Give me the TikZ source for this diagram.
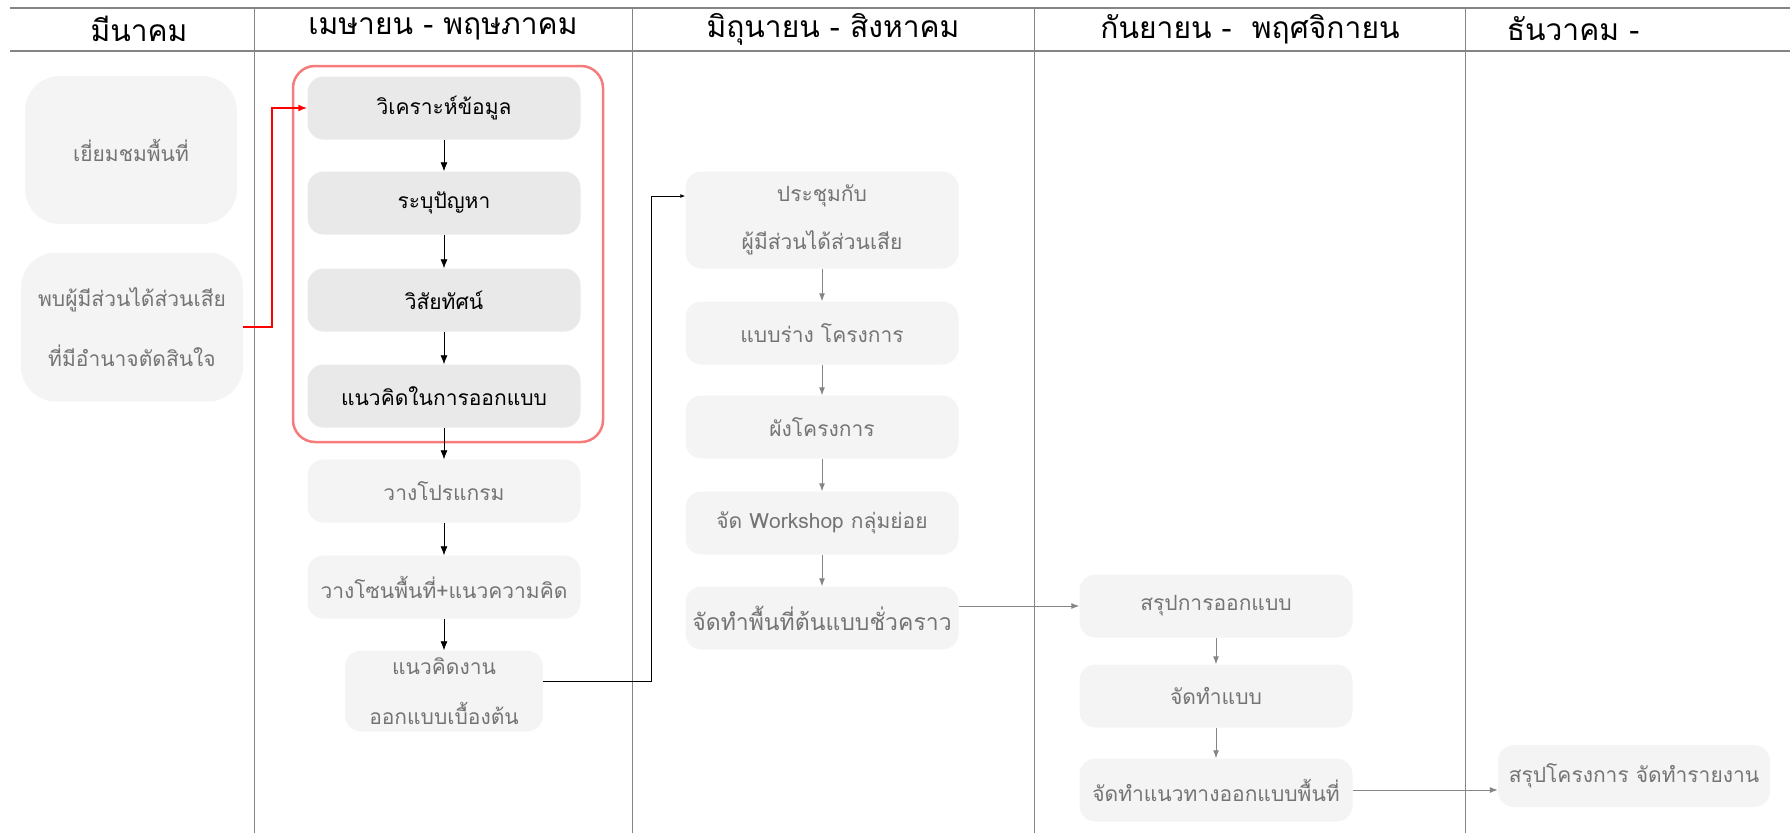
\documentclass[tikz,border=0pt]{standalone}
\usepackage{fontspec}
\newfontfamily\thaifont[Script=Thai]{Loma}
\usetikzlibrary{arrows.meta}

\definecolor{boxgray}{HTML}{F4F4F4}
\definecolor{boxdark}{HTML}{E9E9E9}
\definecolor{txtgray}{HTML}{747474}
\definecolor{linegray}{HTML}{858585}
\definecolor{framered}{HTML}{F47C7C}

\begin{document}
\begin{tikzpicture}[x=1pt,y=-1pt,
    month/.style={font=\thaifont\fontsize{30}{32}\selectfont},
    task/.style={rounded corners=16pt,fill=boxgray,text=txtgray,
        minimum width=273pt,minimum height=63pt,inner sep=0pt,
        align=center,font=\thaifont\fontsize{21}{50}\selectfont},
    keytask/.style={task,fill=boxdark,text=black},
    flow/.style={-{Latex[length=9pt,width=7pt]},thick},
    softflow/.style={-{Latex[length=8pt,width=6pt]},linegray,line width=1pt}]
    \useasboundingbox (0,0) rectangle (1790,833);
    % month header
    \draw [-,linegray,line width=1.2pt] (10,8) to (1790,8);
    \draw [-,linegray,line width=1.2pt] (10,51) to (1790,51);
    \draw [-,linegray,line width=1pt] (254,8) to (254,833);
    \draw [-,linegray,line width=1pt] (632,8) to (632,833);
    \draw [-,linegray,line width=1pt] (1034,8) to (1034,833);
    \draw [-,linegray,line width=1pt] (1465,8) to (1465,833);
    \node (mar) [month] at (139,29) {มีนาคม};
    \node (apr) [month] at (443,29) {เมษายน - พฤษภาคม};
    \node (jun) [month] at (833,29) {มิถุนายน - สิงหาคม};
    \node (sep) [month] at (1250,29) {กันยายน -\ \ พฤศจิกายน};
    \node (dec) [month] at (1573,29) {ธันวาคม -};
    % march
    \node (visit) [task,rounded corners=35pt,minimum width=212pt,minimum height=148pt] at (131,150) {เยี่ยมชมพื้นที่};
    \node (meet) [task,rounded corners=35pt,minimum width=222pt,minimum height=149pt,
        font=\thaifont\fontsize{21}{60}\selectfont] at (132,327) {พบผู้มีส่วนได้ส่วนเสีย\\ที่มีอำนาจตัดสินใจ};
    % april - may
    \draw [framered,line width=2.5pt,rounded corners=22pt] (293,66) rectangle (603,442);
    \node (analyse) [keytask] at (444,108) {วิเคราะห์ข้อมูล};
    \node (problem) [keytask] at (444,203) {ระบุปัญหา};
    \node (vision) [keytask] at (444,300) {วิสัยทัศน์};
    \node (concept) [keytask] at (444,396) {แนวคิดในการออกแบบ};
    \node (program) [task] at (444,491) {วางโปรแกรม};
    \node (zoning) [task] at (444,587) {วางโซนพื้นที่+แนวความคิด};
    \node (prelim) [task,minimum width=198pt,minimum height=81pt] at (444,691) {แนวคิดงาน\\ออกแบบเบื้องต้น};
    \draw [flow] (analyse) to (problem);
    \draw [flow] (problem) to (vision);
    \draw [flow] (vision) to (concept);
    \draw [flow] (concept) to (program);
    \draw [flow] (program) to (zoning);
    \draw [flow] (zoning) to (prelim);
    \draw [flow,red,line width=1.6pt] (meet.east) -- ([xshift=29pt]meet.east) |- (analyse.west);
    % june - august
    \node (meeting) [task,minimum height=97pt,font=\thaifont\fontsize{21}{48}\selectfont] at (822,220) {ประชุมกับ\\ผู้มีส่วนได้ส่วนเสีย};
    \node (draft) [task] at (822,333) {แบบร่าง โครงการ};
    \node (layout) [task] at (822,427) {ผังโครงการ};
    \node (workshop) [task] at (822,523) {จัด Workshop กลุ่มย่อย};
    \node (proto) [task,font=\thaifont\fontsize{23}{25}\selectfont] at (822,618) {จัดทำพื้นที่ต้นแบบชั่วคราว};
    \draw [softflow] (meeting) to (draft);
    \draw [softflow] (draft) to (layout);
    \draw [softflow] (layout) to (workshop);
    \draw [softflow] (workshop) to (proto);
    \draw [-{Latex[length=5pt,width=4pt]},line width=0.9pt] ([yshift=10pt]prelim.east) -- (651,681) |- ([yshift=24pt]meeting.west);
    % september - november
    \node (summary) [task] at (1216,606) {สรุปการออกแบบ};
    \node (drawing) [task] at (1216,696) {จัดทำแบบ};
    \node (guide) [task,font=\thaifont\fontsize{21}{23}\selectfont] at (1216,790) {จัดทำแนวทางออกแบบพื้นที่};
    \draw [softflow] (summary) to (drawing);
    \draw [softflow] (drawing) to (guide);
    \draw [softflow] (proto.east |- summary.west) to (summary.west);
    % december
    \node (report) [task,minimum width=272pt,minimum height=62pt] at (1634,776) {สรุปโครงการ จัดทำรายงาน};
    \draw [softflow] (guide.east) to (guide.east -| report.west);
\end{tikzpicture}
\end{document}
